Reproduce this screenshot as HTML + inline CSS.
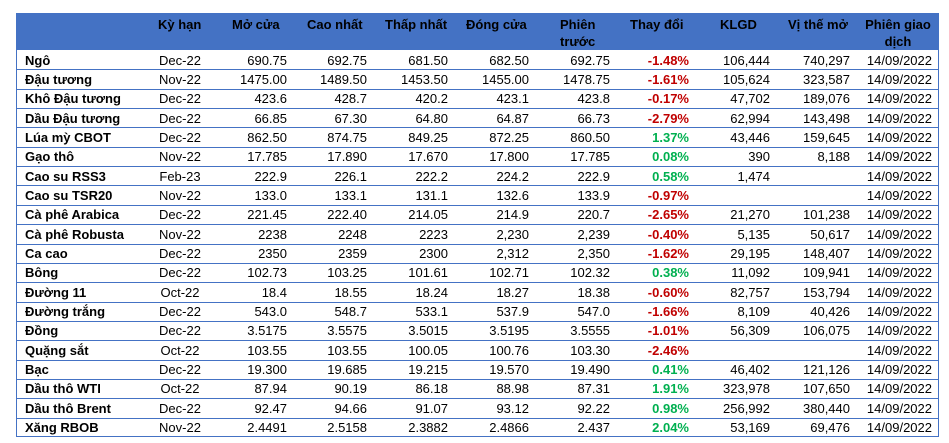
<!DOCTYPE html>
<html><head><meta charset="utf-8"><style>
body{margin:0;width:949px;height:443px;background:#fff;overflow:hidden;font-family:"Liberation Sans","DejaVu Sans",sans-serif;font-size:13px;color:#000}
#tbl{position:absolute;left:16px;top:13px;width:923px;height:424px;border:1px solid #4472C4;box-sizing:border-box}
#hdr{position:absolute;left:16px;top:13px;width:923px;height:37px;background:#4472C4}
.c{position:absolute;white-space:nowrap;line-height:15px}
.h{font-weight:bold}
.line{position:absolute;left:16px;width:923px;height:1px;background:#4472C4}
.r{color:#C00000;font-weight:bold}.g{color:#00B050;font-weight:bold}
</style></head><body>
<div id="tbl"></div>
<div id="hdr"></div>
<div id="root"></div>
<script>
const names=["Ngô","Đậu tương","Khô Đậu tương","Dầu Đậu tương","Lúa mỳ CBOT","Gạo thô","Cao su RSS3","Cao su TSR20","Cà phê Arabica","Cà phê Robusta","Ca cao","Bông","Đường 11","Đường trắng","Đồng","Quặng sắt","Bạc","Dầu thô WTI","Dầu thô Brent","Xăng RBOB"];
const terms=["Dec-22","Nov-22","Dec-22","Dec-22","Dec-22","Nov-22","Feb-23","Nov-22","Dec-22","Nov-22","Dec-22","Dec-22","Oct-22","Dec-22","Dec-22","Oct-22","Dec-22","Oct-22","Dec-22","Nov-22"];
const opens=["690.75","1475.00","423.6","66.85","862.50","17.785","222.9","133.0","221.45","2238","2350","102.73","18.4","543.0","3.5175","103.55","19.300","87.94","92.47","2.4491"];
const highs=["692.75","1489.50","428.7","67.30","874.75","17.890","226.1","133.1","222.40","2248","2359","103.25","18.55","548.7","3.5575","103.55","19.685","90.19","94.66","2.5158"];
const lows=["681.50","1453.50","420.2","64.80","849.25","17.670","222.2","131.1","214.05","2223","2300","101.61","18.24","533.1","3.5015","100.05","19.215","86.18","91.07","2.3882"];
const closes=["682.50","1455.00","423.1","64.87","872.25","17.800","224.2","132.6","214.9","2,230","2,312","102.71","18.27","537.9","3.5195","100.76","19.570","88.98","93.12","2.4866"];
const prevs=["692.75","1478.75","423.8","66.73","860.50","17.785","222.9","133.9","220.7","2,239","2,350","102.32","18.38","547.0","3.5555","103.30","19.490","87.31","92.22","2.437"];
const changes=[-1.48,-1.61,-0.17,-2.79,1.37,0.08,0.58,-0.97,-2.65,-0.40,-1.62,0.38,-0.60,-1.66,-1.01,-2.46,0.41,1.91,0.98,2.04];
const volumes=["106,444","105,624","47,702","62,994","43,446","390","1,474","","21,270","5,135","29,195","11,092","82,757","8,109","56,309","","46,402","323,978","256,992","53,169"];
const ois=["740,297","323,587","189,076","143,498","159,645","8,188","","","101,238","50,617","148,407","109,941","153,794","40,426","106,075","","121,126","107,650","380,440","69,476"];
const dates=Array(20).fill("14/09/2022");
const root=document.getElementById('root');
function cell(txt,x,y,align,cls,name){
  const d=document.createElement('div');
  d.className='c '+(cls||'');
  
  
  d.textContent=txt;
  if(align==='right'){d.style.right=(949-x)+'px';}
  else if(align==='center'){d.style.left=(x-60)+'px';d.style.width='120px';d.style.textAlign='center';}
  else d.style.left=x+'px';
  d.style.top=y+'px';
  root.appendChild(d);
}
// headers
cell("Kỳ hạn",158,17,'left','h','header-ky-han');
cell("Mở cửa",232,17,'left','h','header-mo-cua');
cell("Cao nhất",307,17,'left','h','header-cao-nhat');
cell("Thấp nhất",385,17,'left','h','header-thap-nhat');
cell("Đóng cửa",466,17,'left','h','header-dong-cua');
cell("Phiên",560,17,'left','h','header-phien-truoc');
cell("trước",560,34,'left','h','header-phien-truoc-2');
cell("Thay đổi",630,17,'left','h','header-thay-doi');
cell("KLGD",720,17,'left','h','header-klgd');
cell("Vị thế mở",788,17,'left','h','header-vi-the-mo');
cell("Phiên giao",898,17,'center','h','header-phien-giao-dich');
cell("dịch",898,34,'center','h','header-phien-giao-dich-2');
const top0=50,rh=19.35;
for(let i=0;i<names.length;i++){
  const y=top0+i*rh;
  if(i>0){const l=document.createElement('div');l.className='line';l.style.top=y+'px';
    
    
    root.appendChild(l);}
  const ty=y+2.5;
  cell(names[i],25,ty,'left','h','commodity-name');
  cell(terms[i],180,ty,'center','','term');
  cell(opens[i],287,ty,'right','','open-price');
  cell(highs[i],367,ty,'right','','high-price');
  cell(lows[i],448,ty,'right','','low-price');
  cell(closes[i],529,ty,'right','','close-price');
  cell(prevs[i],610,ty,'right','','previous-price');
  const c=changes[i];
  cell((c<0?'-':'')+Math.abs(c).toFixed(2)+'%',689,ty,'right',c<0?'r':'g','change-percent');
  cell(volumes[i],770,ty,'right','','volume');
  cell(ois[i],850,ty,'right','','open-interest');
  cell(dates[i],932,ty,'right','','trade-date');
}
</script>
</body></html>
